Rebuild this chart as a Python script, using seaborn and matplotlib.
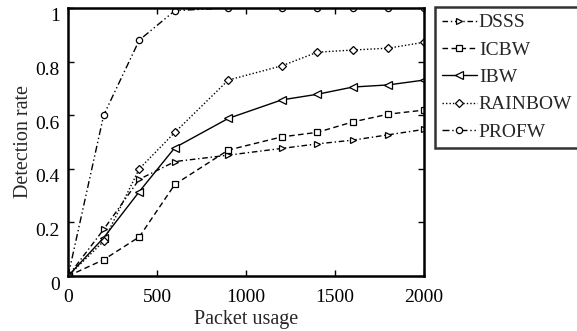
import numpy as np
import pandas as pd
import matplotlib
matplotlib.use("Agg")
import matplotlib.pyplot as plt
import matplotlib.transforms as mtransforms
import seaborn as sns

# --- data ---
packet_usage = [0, 200, 400, 600, 900, 1200, 1400, 1600, 1800, 2000]
dsss = [0, 0.174, 0.361, 0.427, 0.451, 0.476, 0.493, 0.507, 0.527, 0.547]
icbw = [0, 0.061, 0.146, 0.342, 0.470, 0.519, 0.536, 0.575, 0.604, 0.619]
ibw = [0, 0.143, 0.315, 0.479, 0.588, 0.657, 0.678, 0.705, 0.713, 0.731]
rainbow = [0, 0.130, 0.400, 0.536, 0.731, 0.784, 0.835, 0.843, 0.850, 0.872]
profw = [0, 0.600, 0.880, 0.990, 1.0, 1.0, 1.0, 1.0, 1.0, 1.0]

series_names = ["DSSS", "ICBW", "IBW", "RAINBOW", "PROFW"]
series_values = [dsss, icbw, ibw, rainbow, profw]
markers = [">", "s", "<", "D", "o"]
linestyles = [(0, (4, 2, 1, 2)), (0, (4, 2.5)), "-", (0, (1, 1.5)), (0, (5, 2, 1, 2, 1, 2))]
marker_sizes = [5, 4.5, 6, 4, 4.5]

sns.set_style("ticks")
plt.rcParams["font.family"] = ["Liberation Serif", "DejaVu Serif"]

fig = plt.figure(figsize=(5.77, 3.31), dpi=100)
ax = fig.add_axes([0.118, 0.166, 0.617, 0.810])

for name, vals, mk, ls, ms in zip(series_names, series_values, markers, linestyles, marker_sizes):
    df = pd.DataFrame({"x": packet_usage, "y": vals})
    sns.lineplot(data=df, x="x", y="y", ax=ax, color="black", linewidth=1.0,
                 linestyle=ls, marker=mk, markersize=ms, markerfacecolor="white",
                 markeredgecolor="black", markeredgewidth=0.9, label=name)

ax.set_xlim(0, 2000)
ax.set_ylim(0, 1)
ax.set_xticks([0, 500, 1000, 1500, 2000])
ax.set_yticks([0, 0.2, 0.4, 0.6, 0.8, 1.0])
ax.set_yticklabels(["0", "0.2", "0.4", "0.6", "0.8", "1"])
ax.tick_params(direction="in", top=True, right=True, length=4, width=1,
               labelsize=14, color="black", labelcolor="black")
ax.tick_params(axis="x", pad=9)
ax.tick_params(axis="y", pad=6)
for sp in ax.spines.values():
    sp.set_visible(True)
    sp.set_linewidth(1.8)
    sp.set_color("black")

# gnuplot-style: y tick labels sit a little below their ticks
offset = mtransforms.ScaledTranslation(0, -7 / 100, fig.dpi_scale_trans)
for lab in ax.get_yticklabels():
    lab.set_transform(lab.get_transform() + offset)

ax.set_xlabel("Packet usage", fontsize=14.5, labelpad=3)
ax.set_ylabel("Detection rate", fontsize=14.5, labelpad=2)

leg = ax.legend(loc="upper left", bbox_to_anchor=(0.754, 0.979),
                bbox_transform=fig.transFigure, fontsize=14, frameon=True,
                fancybox=False, handlelength=1.8, handletextpad=0.1,
                borderpad=0.35, labelspacing=0.5, borderaxespad=0)
leg.get_frame().set_edgecolor("black")
leg.get_frame().set_linewidth(1.8)

fig.savefig("out.png", dpi=100)
